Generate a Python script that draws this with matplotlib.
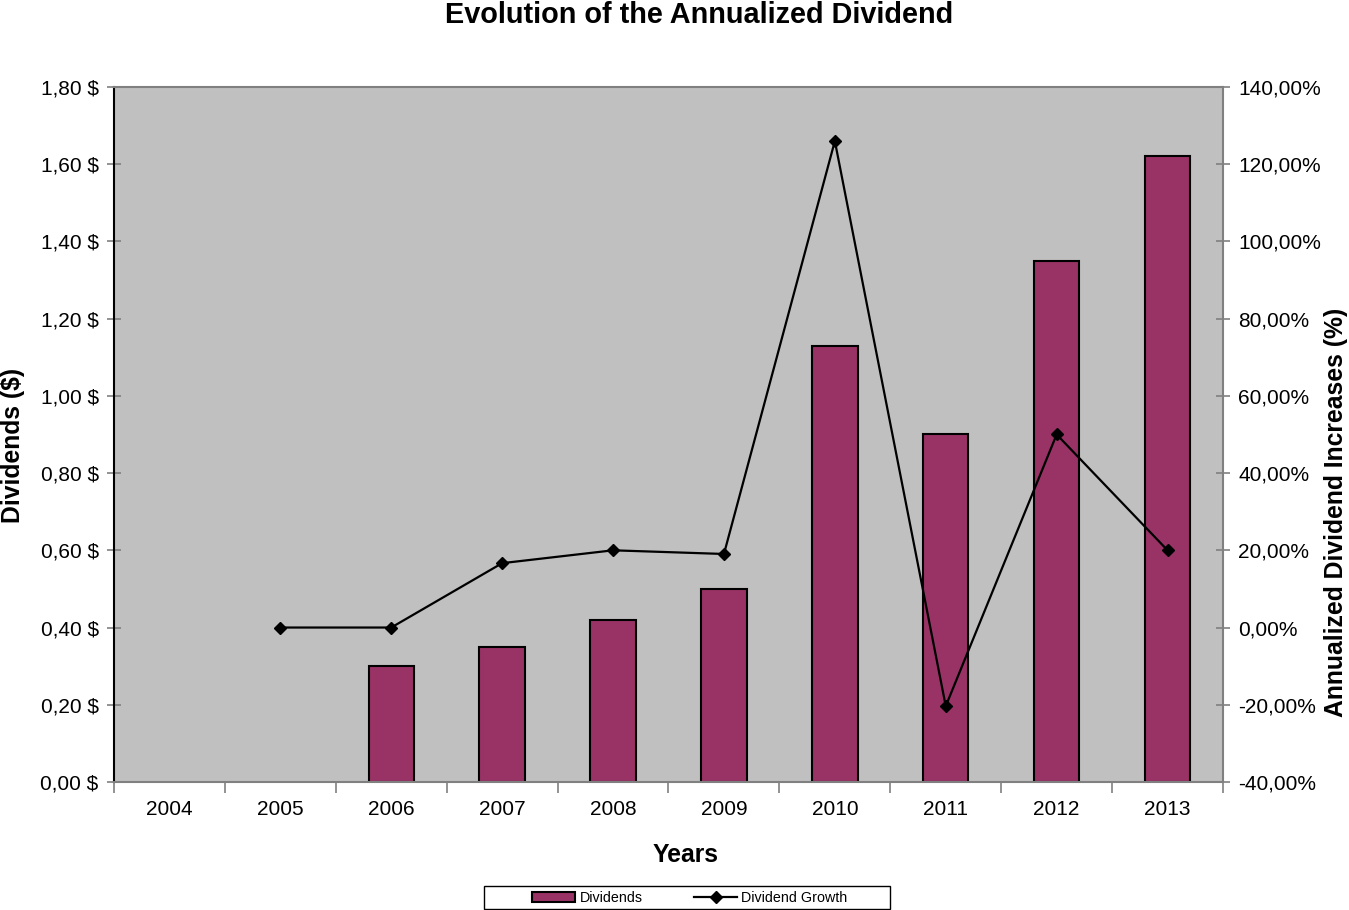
import matplotlib.pyplot as plt
import numpy as np
from matplotlib.patches import Rectangle
from matplotlib.ticker import FuncFormatter

plt.rcParams['font.family'] = ['Liberation Sans', 'DejaVu Sans']

years = ['2004', '2005', '2006', '2007', '2008', '2009', '2010', '2011', '2012', '2013']
dividends = [np.nan, np.nan, 0.30, 0.35, 0.42, 0.50, 1.13, 0.90, 1.35, 1.62]
growth_years = ['2005', '2006', '2007', '2008', '2009', '2010', '2011', '2012', '2013']
growth = [0.0, 0.0, 16.67, 20.0, 19.05, 126.0, -20.35, 50.0, 20.0]

fig = plt.figure(figsize=(13.49, 9.10), dpi=100)
ax = fig.add_axes([0.0845, 0.1407, 0.8221, 0.7637])
ax.set_facecolor('#C0C0C0')

x = np.arange(len(years))
bars = ax.bar(x, dividends, width=0.41, color='#993366', edgecolor='black',
              linewidth=1.5, label='Dividends', zorder=2)
ax.set_xlim(-0.5, len(years) - 0.5)
ax.set_ylim(0, 1.8)
ax.set_yticks(np.arange(0, 1.81, 0.2))
ax.yaxis.set_major_formatter(FuncFormatter(lambda v, p: f'{v:.2f} $'.replace('.', ',')))

# category labels at centers, tick marks at boundaries
ax.set_xticks(np.arange(-0.5, len(years), 1))
ax.set_xticklabels([])
ax.set_xticks(x, minor=True)
ax.set_xticklabels(years, minor=True)
ax.tick_params(axis='x', which='minor', length=0, pad=13, labelsize=15)
ax.tick_params(axis='x', which='major', direction='out', length=8, color='#808080', width=1.2)
ax.tick_params(axis='y', direction='inout', length=10, color='#808080', width=1.2,
               labelsize=15, pad=6)

for side in ['top', 'right', 'bottom']:
    ax.spines[side].set_color('#808080')
    ax.spines[side].set_linewidth(1.5)
ax.spines['left'].set_color('black')
ax.spines['left'].set_linewidth(1.5)

ax2 = ax.twinx()
gx = [years.index(y) for y in growth_years]
line, = ax2.plot(gx, growth, color='black', linewidth=1.6, marker='D', markersize=6,
                 label='Dividend Growth', zorder=3)
ax2.set_ylim(-40, 140)
ax2.set_yticks(np.arange(-40, 141, 20))
ax2.yaxis.set_major_formatter(FuncFormatter(lambda v, p: f'{v:.2f}%'.replace('.', ',')))
ax2.tick_params(axis='y', direction='inout', length=10, color='#808080', width=1.2,
                labelsize=15, pad=6)
for side in ['top', 'right', 'bottom', 'left']:
    ax2.spines[side].set_visible(False)

fig.text(0.518, 0.984, 'Evolution of the Annualized Dividend', ha='center', va='center',
         fontsize=20.8, fontweight='bold')
fig.text(0.508, 0.0604, 'Years', ha='center', va='center', fontsize=17.8, fontweight='bold')
fig.text(0.0096, 0.51, 'Dividends ($)', ha='center', va='center', rotation=90,
         fontsize=17.8, fontweight='bold')
fig.text(0.9905, 0.437, 'Annualized Dividend Increases (%)', ha='center', va='center',
         rotation=90, fontsize=17.8, fontweight='bold')

leg = fig.legend([bars, line], ['Dividends', 'Dividend Growth'], loc='center',
                 bbox_to_anchor=(0.5115, 0.013), ncol=2, fontsize=10.3, frameon=False,
                 handlelength=3.0, columnspacing=3.6, handletextpad=0.3)
# legend box as drawn in the original (wider than the entries)
fig.patches.append(Rectangle((0.3588, 0.0011), 0.301, 0.0253, transform=fig.transFigure,
                             fill=False, edgecolor='black', linewidth=1.0))

fig.savefig('out.png', dpi=100)
